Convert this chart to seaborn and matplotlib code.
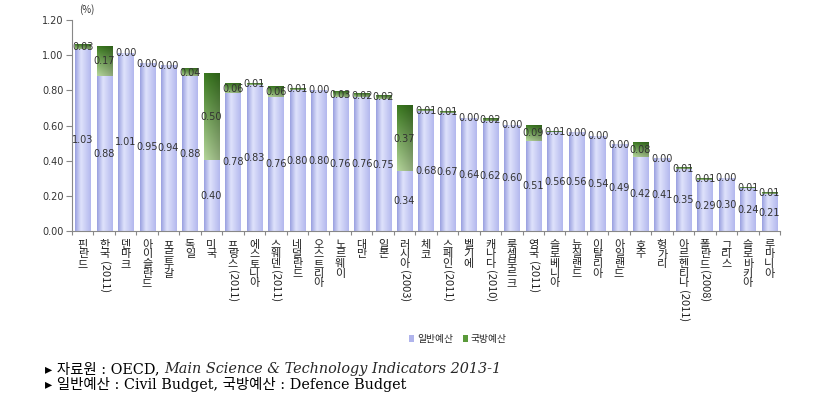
import re
import numpy as np
import pandas as pd
import matplotlib
matplotlib.use("Agg")
import matplotlib.pyplot as plt
import seaborn as sns
from matplotlib.patches import Patch

countries = ["핀란드", "한국(2011)", "덴마크", "아이슬란드", "포르투갈", "독일", "미국",
             "프랑스(2011)", "에스토니아", "스웨덴(2011)", "네덜란드", "오스트리아", "노르웨이",
             "대만", "일본", "러시아(2003)", "체코", "스페인(2011)", "벨기에", "캐나다(2010)",
             "룩셈부르크", "영국(2011)", "슬로베니아", "뉴질랜드", "이탈리아", "아일랜드", "호주",
             "헝가리", "아르헨티나(2011)", "폴란드(2008)", "그리스", "슬로바키아", "루마니아"]
civil = [1.03, 0.88, 1.01, 0.95, 0.94, 0.88, 0.40, 0.78, 0.83, 0.76, 0.80, 0.80, 0.76,
         0.76, 0.75, 0.34, 0.68, 0.67, 0.64, 0.62, 0.60, 0.51, 0.56, 0.56, 0.54, 0.49, 0.42,
         0.41, 0.35, 0.29, 0.30, 0.24, 0.21]
defence = [0.03, 0.17, 0.00, 0.00, 0.00, 0.04, 0.50, 0.06, 0.01, 0.06, 0.01, 0.00, 0.03,
           0.02, 0.02, 0.37, 0.01, 0.01, 0.00, 0.02, 0.00, 0.09, 0.01, 0.00, 0.00, 0.00, 0.08,
           0.00, 0.01, 0.01, 0.00, 0.01, 0.01]
yticks = [0.0, 0.2, 0.4, 0.6, 0.8, 1.0, 1.2]
series_names = ["일반예산", "국방예산"]

sns.set_theme(style="white")
plt.rcParams["font.family"] = ["Noto Sans CJK KR", "DejaVu Sans"]

df = pd.DataFrame({"country": countries, "civil": civil, "defence": defence})
df["total"] = df["civil"] + df["defence"]

W, H = 818, 418
fig = plt.figure(figsize=(W / 100, H / 100), dpi=100)
ax = fig.add_axes([72 / W, 1 - 231 / H, 708 / W, 211 / H])

green_base = "#5a9a3a"
blue_base = "#b8bcf0"
sns.barplot(data=df, x="country", y="total", color=green_base, width=0.7, ax=ax,
            saturation=1, edgecolor="none", linewidth=0)
sns.barplot(data=df, x="country", y="civil", color=blue_base, width=0.7, ax=ax,
            saturation=1, edgecolor="none", linewidth=0)

n = len(countries)
tot_patches = ax.patches[:n]
civ_patches = ax.patches[n:2 * n]


def hex2rgb(h):
    h = h.lstrip("#")
    return np.array([int(h[i:i + 2], 16) / 255 for i in (0, 2, 4)])


# civil gradient (horizontal)
u = np.linspace(0, 1, 64)
c0, c1, c2 = hex2rgb("#9aa0e0"), hex2rgb("#dfe2fb"), hex2rgb("#b3b8ee")
civ_row = np.where(u[:, None] < 0.38,
                   c0 + (c1 - c0) * (u[:, None] / 0.38),
                   c1 + (c2 - c1) * ((u[:, None] - 0.38) / 0.62))
civ_img = np.tile(civ_row[None, :, :], (2, 1, 1))

# defence gradient (vertical dark top -> light bottom, darker right)
v = np.linspace(1, 0, 64)[:, None, None]
g_dark, g_light = hex2rgb("#3b7a20"), hex2rgb("#b6d79c")
g = g_light + (g_dark - g_light) * v
shade = (1 - 0.22 * u)[None, :, None]
grn_img = np.clip(g * shade, 0, 1)

for tp, cp in zip(tot_patches, civ_patches):
    x0 = tp.get_x()
    w = tp.get_width()
    top = tp.get_height()
    mid = cp.get_height()
    tp.set_visible(False)
    cp.set_visible(False)
    if top - mid > 1e-9:
        ax.imshow(grn_img, extent=(x0, x0 + w, mid, top), aspect="auto",
                  interpolation="bilinear", zorder=2)
    ax.imshow(civ_img, extent=(x0, x0 + w, 0, mid), aspect="auto",
              interpolation="bilinear", zorder=2)

# value labels
for i, (cp, c, d) in enumerate(zip(civ_patches, civil, defence)):
    xc = cp.get_x() + cp.get_width() / 2
    ax.text(xc, c / 2, f"{c:.2f}", ha="center", va="center", fontsize=7,
            color="#333333", zorder=5, family=["DejaVu Sans"])
    ax.text(xc, c + d / 2, f"{d:.2f}", ha="center", va="center", fontsize=7,
            color="#333333", zorder=5, family=["DejaVu Sans"])

ax.set_xlim(-0.46, n - 1 + 0.46)
ax.set_ylim(yticks[0], yticks[-1])
ax.set_yticks(yticks)
ax.set_yticklabels([f"{t:.2f}" for t in yticks], fontsize=7, color="#333333",
                   family=["DejaVu Sans"])
ax.set_xlabel("")
ax.set_ylabel("")
ax.set_xticks(range(n))
ax.set_xticklabels([""] * n)
ax.set_xticks(np.arange(-0.5, n, 1), minor=True)
ax.tick_params(axis="x", which="major", length=0)
ax.tick_params(axis="x", which="minor", length=3, direction="out", color="#888888",
               width=0.8, bottom=True)
ax.tick_params(axis="y", length=4, direction="out", color="#888888", width=0.8,
               left=True, pad=2)
for s in ["top", "right"]:
    ax.spines[s].set_visible(False)
for s in ["left", "bottom"]:
    ax.spines[s].set_color("#888888")
    ax.spines[s].set_linewidth(0.8)

# category labels: stacked Korean, rotated suffix
tr = ax.get_xaxis_transform()
for i, name in enumerate(countries):
    m = re.match(r"^(.*?)(\(.*\))?$", name)
    kor, suf = m.group(1), m.group(2)
    t = ax.text(i, -0.042, "\n".join(kor), transform=tr, ha="center", va="top",
                fontsize=8, linespacing=0.95, color="#222222")
    if suf:
        ax.annotate(suf, xy=(0.5, 0), xycoords=t, xytext=(0, -1),
                    textcoords="offset points", ha="center", va="top",
                    rotation=-90, fontsize=8, color="#222222")

fig.text(87 / W, 1 - 10 / H, "(%)", fontsize=7, ha="center", va="center",
         color="#333333")

handles = [Patch(facecolor="#b0b4ec", edgecolor="none"),
           Patch(facecolor=green_base, edgecolor="none")]
fig.legend(handles, series_names, loc="center", bbox_to_anchor=(458 / W, 1 - 339 / H),
           ncol=2, frameon=False, fontsize=7, handlelength=0.5, handleheight=0.7,
           columnspacing=1.0, handletextpad=0.3)

fam = ["DejaVu Serif", "Noto Sans CJK KR", "DejaVu Sans"]
t1 = fig.text(45 / W, 1 - 369 / H, "▸ 자료원 : OECD, ", family=fam, fontsize=10.4,
              ha="left", va="center", color="black")
ax.annotate("Main Science & Technology Indicators 2013-1", xy=(1, 0.5), xycoords=t1,
            ha="left", va="center", fontsize=10.4, family=fam, style="italic",
            annotation_clip=False)
fig.text(45 / W, 1 - 385 / H, "▸ 일반예산 : Civil Budget, 국방예산 : Defence Budget",
         family=fam, fontsize=10.4, ha="left", va="center", color="black")

fig.savefig("out.png", dpi=100)
